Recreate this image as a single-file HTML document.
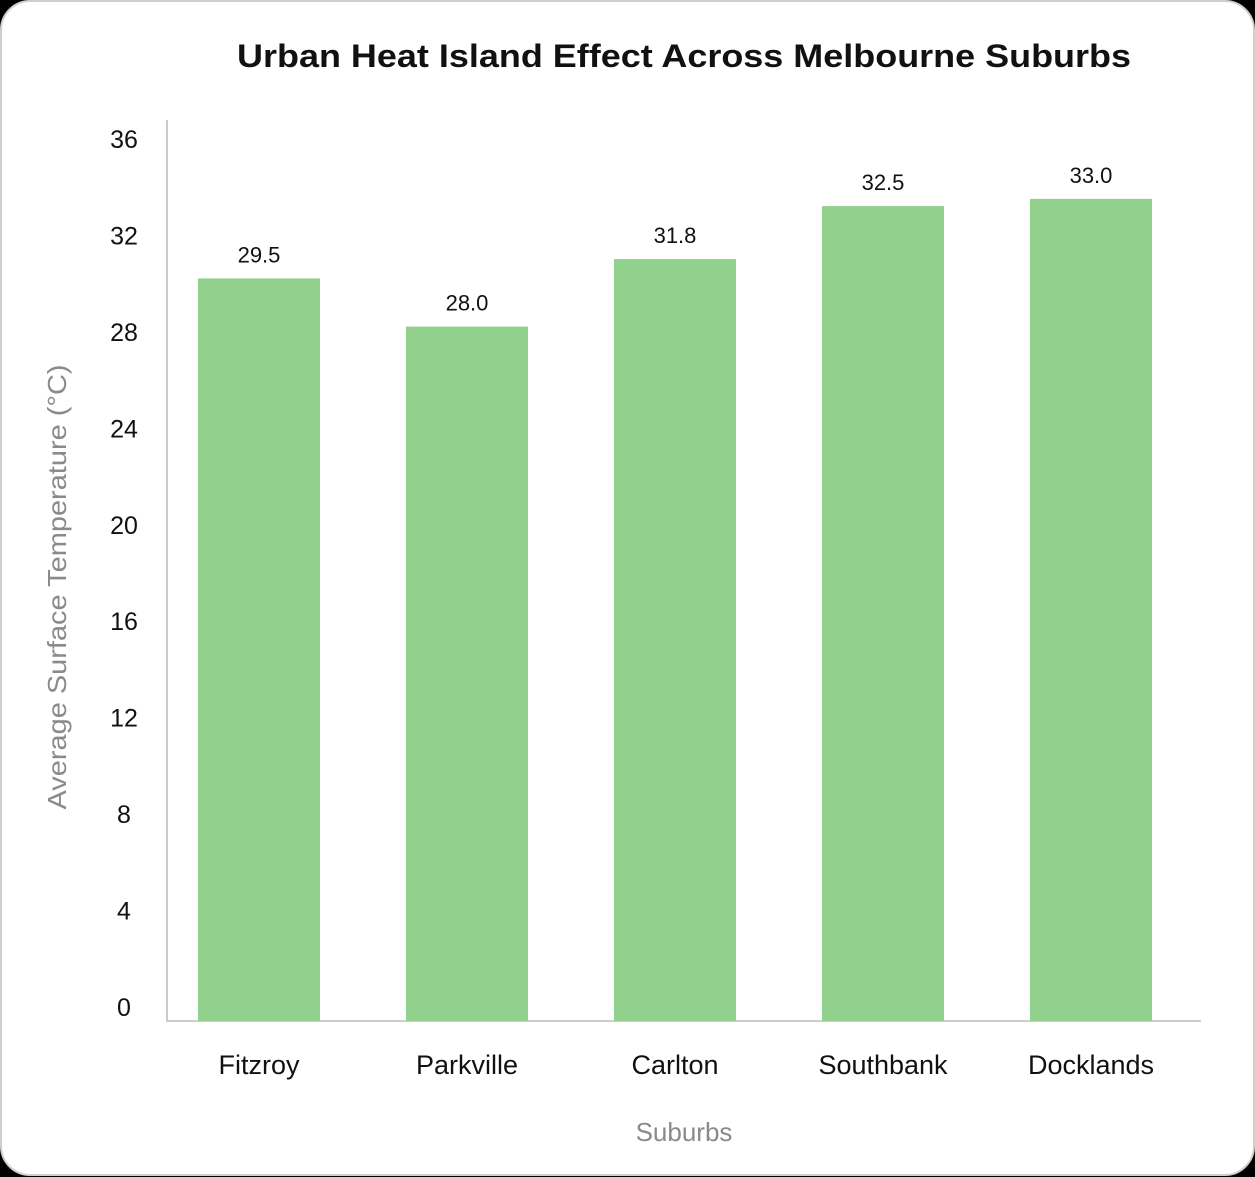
<!DOCTYPE html>
<html><head><meta charset="utf-8"><style>
html,body{margin:0;padding:0;background:#000;width:1255px;height:1177px;overflow:hidden}
#card{position:absolute;left:0;top:0;width:1251px;height:1172px;background:#fff;border:2px solid #cfcfcf;border-radius:30px}
svg{position:absolute;left:0;top:0}
text{font-family:"Liberation Sans",sans-serif}
</style></head><body>
<div id="card"></div>
<svg id="chart" width="1255" height="1177">
<text x="684" y="67" text-anchor="middle" font-size="32" font-weight="bold" fill="#111" textLength="894" lengthAdjust="spacingAndGlyphs">Urban Heat Island Effect Across Melbourne Suburbs</text>
<text x="684" y="1141" text-anchor="middle" font-size="26" fill="#8a8a8a">Suburbs</text>
<text transform="translate(66,587) rotate(-90)" text-anchor="middle" font-size="26" fill="#8a8a8a" textLength="445" lengthAdjust="spacingAndGlyphs">Average Surface Temperature (°C)</text>
<line x1="167" y1="120" x2="167" y2="1021" stroke="#cccccc" stroke-width="2"/>
<line x1="166" y1="1021" x2="1201" y2="1021" stroke="#cccccc" stroke-width="2"/>
<g id="bars"></g><g id="ticks"></g>
</svg>
<script>
const categories=["Fitzroy","Parkville","Carlton","Southbank","Docklands"];
const barValues=[30.8,28.8,31.6,33.8,34.1];
const valueLabels=["29.5","28.0","31.8","32.5","33.0"];
const yTicks=[0,4,8,12,16,20,24,28,32,36];
const NS="http://www.w3.org/2000/svg";
const y0=1021, pxPer=24.11;
const yScale=v=>y0-v*pxPer;
const tickY=v=>1007-v*(868/36);
const xCenter=i=>259+i*208;
const bw=122;
const bars=document.getElementById('bars');
const ticks=document.getElementById('ticks');
function mk(tag,attrs){const e=document.createElementNS(NS,tag);for(const k in attrs)e.setAttribute(k,attrs[k]);return e;}
categories.forEach((c,i)=>{
  const r=mk('rect',{x:xCenter(i)-bw/2,y:yScale(barValues[i]),width:bw,height:y0-yScale(barValues[i]),fill:'#92d08e'});
  
  
  bars.appendChild(r);
  const t=mk('text',{x:xCenter(i),y:yScale(barValues[i])-16,'text-anchor':'middle','font-size':'22',fill:'#111'});
  t.textContent=valueLabels[i];
  
  
  bars.appendChild(t);
  const l=mk('text',{x:xCenter(i),y:1074,'text-anchor':'middle','font-size':'27',fill:'#111'});
  l.textContent=c;
  
  
  bars.appendChild(l);
});
yTicks.forEach(v=>{
  const t=mk('text',{x:124,y:tickY(v)+9,'text-anchor':'middle','font-size':'25',fill:'#111'});
  t.textContent=String(v);
  
  
  ticks.appendChild(t);
});
</script>
</body></html>
